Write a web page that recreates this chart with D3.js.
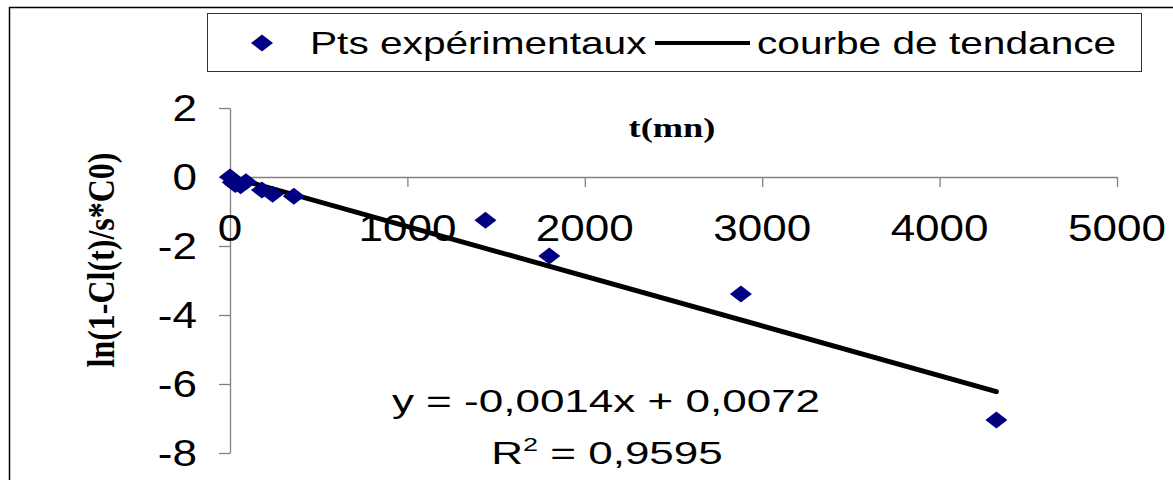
<!DOCTYPE html>
<html>
<head>
<meta charset="utf-8">
<script src="https://cdn.jsdelivr.net/npm/d3@7"></script>
<style>
  html, body { margin: 0; padding: 0; background: #fff; }
  svg { display: block; }
</style>
</head>
<body>
<svg id="chart" width="1173" height="480"></svg>
<script>
// experimental points: t (mn) and ln(1 - Cl(t)/s*C0)
const tValues = [0, 15, 30, 60, 90, 180, 240, 360, 1440, 1800, 2880, 4320];
const lnValues = [0, -0.15, -0.22, -0.25, -0.14, -0.38, -0.5, -0.56, -1.25, -2.29, -3.39, -7.04];

// trend line end points as drawn
const trendT = [0, 4320];
const trendY = [0.0072, -6.22];

const xTicks = [0, 1000, 2000, 3000, 4000, 5000];
const yTicks = [2, 0, -2, -4, -6, -8];

const legendLabels = ['Pts expérimentaux', 'courbe de tendance'];
const equationText = 'y = -0,0014x + 0,0072';
const r2Text = '0,9595';

const svg = d3.select('#chart');

// outer chart frame (right and bottom fall outside the picture)
svg.append('rect')
    .attr('x', 9.5).attr('y', 7.5)
    .attr('width', 1200).attr('height', 500)
    .attr('fill', '#fff')
    .attr('stroke', '#000')
    .attr('stroke-width', 1.5);

const xScale = d3.scaleLinear().domain([0, 5000]).range([230, 1117]);
const yScale = d3.scaleLinear().domain([-8, 2]).range([453, 108]);

// axes
const xAxis = d3.axisBottom(xScale).tickValues(xTicks).tickSize(10).tickSizeOuter(0).tickFormat('');
const yAxis = d3.axisLeft(yScale).tickValues(yTicks).tickSize(11).tickSizeOuter(0).tickFormat('');

const xAxisG = svg.append('g')
    .attr('transform', `translate(0,${yScale(0)})`)
    .call(xAxis);
const yAxisG = svg.append('g')
    .attr('transform', `translate(${xScale(0)},0)`)
    .call(yAxis);

[xAxisG, yAxisG].forEach(g => {
  g.selectAll('path, line').attr('stroke', '#808080').attr('stroke-width', 1.3);
});

// tick labels (the picture is stretched horizontally, so text is too)
svg.selectAll('.x-label')
    .data(xTicks)
  .join('text')
    .attr('class', 'x-label')
    .attr('transform', d => `translate(${xScale(d)},241) scale(1.19,1)`)
    .attr('text-anchor', 'middle')
    .style('font-family', 'Arial, "Liberation Sans", sans-serif')
    .style('font-size', '37px')
    .text(d => d);

svg.selectAll('.y-label')
    .data(yTicks)
  .join('text')
    .attr('class', 'y-label')
    .attr('transform', d => `translate(197,${yScale(d) + 13}) scale(1.19,1)`)
    .attr('text-anchor', 'end')
    .style('font-family', 'Arial, "Liberation Sans", sans-serif')
    .style('font-size', '37px')
    .text(d => d);

// axis titles
svg.append('text')
    .attr('transform', 'translate(672,137) scale(1.3,1)')
    .attr('text-anchor', 'middle')
    .style('font-family', '"Times New Roman", "Liberation Serif", serif')
    .style('font-weight', 'bold')
    .style('font-size', '28px')
    .text('t(mn)');

svg.append('text')
    .attr('transform', 'translate(114,260) rotate(-90) scale(1,1.2)')
    .attr('text-anchor', 'middle')
    .style('font-family', '"Times New Roman", "Liberation Serif", serif')
    .style('font-weight', 'bold')
    .style('font-size', '32px')
    .text('ln(1-Cl(t)/s*C0)');

// trend line
const line = d3.line()
    .x(d => xScale(d[0]))
    .y(d => yScale(d[1]));

svg.append('path')
    .datum(d3.zip(trendT, trendY))
    .attr('d', line)
    .attr('fill', 'none')
    .attr('stroke', '#000')
    .attr('stroke-width', 5)
    .attr('stroke-linecap', 'round');

// points (diamonds, horizontally stretched)
const diamond = 'M0,-8.5L11,0L0,8.5L-11,0Z';
svg.selectAll('.pt')
    .data(d3.zip(tValues, lnValues))
  .join('path')
    .attr('class', 'pt')
    .attr('d', diamond)
    .attr('transform', d => `translate(${xScale(d[0])},${yScale(d[1])})`)
    .attr('fill', '#000080');

// equation of the trend line
svg.append('text')
    .attr('transform', 'translate(606,412) scale(1.42,1)')
    .attr('text-anchor', 'middle')
    .style('font-family', 'Arial, "Liberation Sans", sans-serif')
    .style('font-size', '31px')
    .text(equationText);

const r2 = svg.append('text')
    .attr('transform', 'translate(607,464) scale(1.42,1)')
    .attr('text-anchor', 'middle')
    .style('font-family', 'Arial, "Liberation Sans", sans-serif')
    .style('font-size', '31px');
r2.append('tspan').text('R');
r2.append('tspan').attr('dy', -13).style('font-size', '19px').text('2');
r2.append('tspan').attr('dy', 13).text(' = ' + r2Text);

// legend
const legend = svg.append('g');
legend.append('rect')
    .attr('x', 207.5).attr('y', 13.5)
    .attr('width', 934).attr('height', 58)
    .attr('fill', '#fff')
    .attr('stroke', '#333')
    .attr('stroke-width', 1);
legend.append('path')
    .attr('d', diamond)
    .attr('transform', 'translate(262,43)')
    .attr('fill', '#000080');
legend.append('text')
    .attr('transform', 'translate(310,54) scale(1.27,1)')
    .style('font-family', 'Arial, "Liberation Sans", sans-serif')
    .style('font-size', '32px')
    .text(legendLabels[0]);
legend.append('line')
    .attr('x1', 655).attr('x2', 750)
    .attr('y1', 43).attr('y2', 43)
    .attr('stroke', '#000')
    .attr('stroke-width', 4);
legend.append('text')
    .attr('transform', 'translate(757,54) scale(1.27,1)')
    .style('font-family', 'Arial, "Liberation Sans", sans-serif')
    .style('font-size', '32px')
    .text(legendLabels[1]);
</script>
</body>
</html>
